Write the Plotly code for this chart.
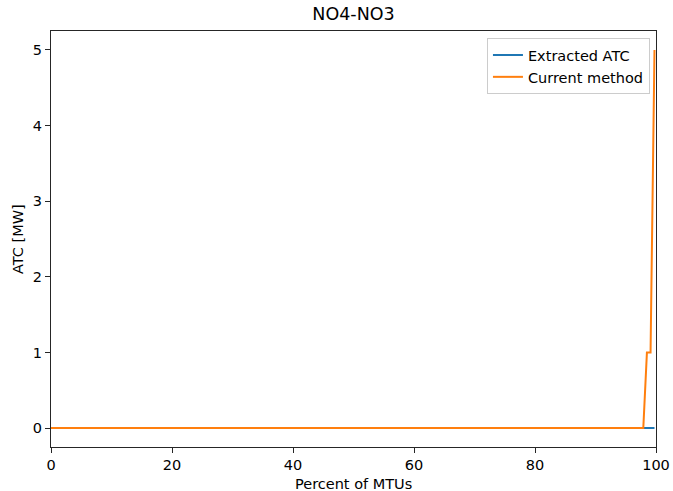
import plotly.graph_objects as go

title = "NO4-NO3"
x_label = "Percent of MTUs"
y_label = "ATC [MW]"

# Extracted ATC (sorted duration curve)
extracted_x = [0, 97.9, 99.75]
extracted_y = [0, 0, 0]

# Current method
current_x = [0, 97.9, 98.5, 99.1, 99.75]
current_y = [0, 0, 1, 1, 5]

x_ticks = [0, 20, 40, 60, 80, 100]
y_ticks = [0, 1, 2, 3, 4, 5]

font_family = "DejaVu Sans"
fs = 14.5

W, H = 673, 491

fig = go.Figure()
fig.add_trace(go.Scatter(x=extracted_x, y=extracted_y, mode="lines",
                         name="Extracted ATC", line=dict(color="#1f77b4", width=2)))
fig.add_trace(go.Scatter(x=current_x, y=current_y, mode="lines",
                         name="Current method", line=dict(color="#ff7f0e", width=2)))

axis_common = dict(
    showgrid=False, zeroline=False, showline=True, mirror=True,
    linecolor="#262626", linewidth=1.1, automargin=False,
    ticks="outside", ticklen=5, tickwidth=1, tickcolor="#262626",
    tickfont=dict(family=font_family, size=fs, color="black"),
)

fig.update_layout(
    width=W, height=H,
    margin=dict(l=51, r=17, t=31, b=44, autoexpand=False),
    plot_bgcolor="white", paper_bgcolor="white",
    title=dict(text=title, x=353.5 / W, xanchor="center",
               y=1 - 14 / H, yanchor="middle",
               font=dict(family=font_family, size=17.5, color="black")),
    xaxis=dict(range=[0, 100], tickvals=x_ticks, **axis_common),
    yaxis=dict(range=[-0.25, 5.25], tickvals=y_ticks, **axis_common),
    legend=dict(x=0.99, y=0.983, xanchor="right", yanchor="top",
                bgcolor="rgba(255,255,255,0.8)", bordercolor="#cccccc", borderwidth=1,
                font=dict(family=font_family, size=fs, color="black"),
                itemwidth=30, tracegroupgap=0),
    showlegend=True,
    annotations=[
        dict(text=x_label, xref="paper", yref="paper", x=0.5, y=-(484 - 447) / 416,
             xanchor="center", yanchor="middle", showarrow=False,
             font=dict(family=font_family, size=fs, color="black")),
        dict(text=y_label, xref="paper", yref="paper", x=-(51 - 18) / 605, y=0.5,
             xanchor="center", yanchor="middle", showarrow=False, textangle=-90,
             font=dict(family=font_family, size=fs, color="black")),
    ],
)

fig.write_html("out.html",
               config={"displayModeBar": False},
               post_script="document.body.style.margin='0px';document.body.style.overflow='hidden';")
